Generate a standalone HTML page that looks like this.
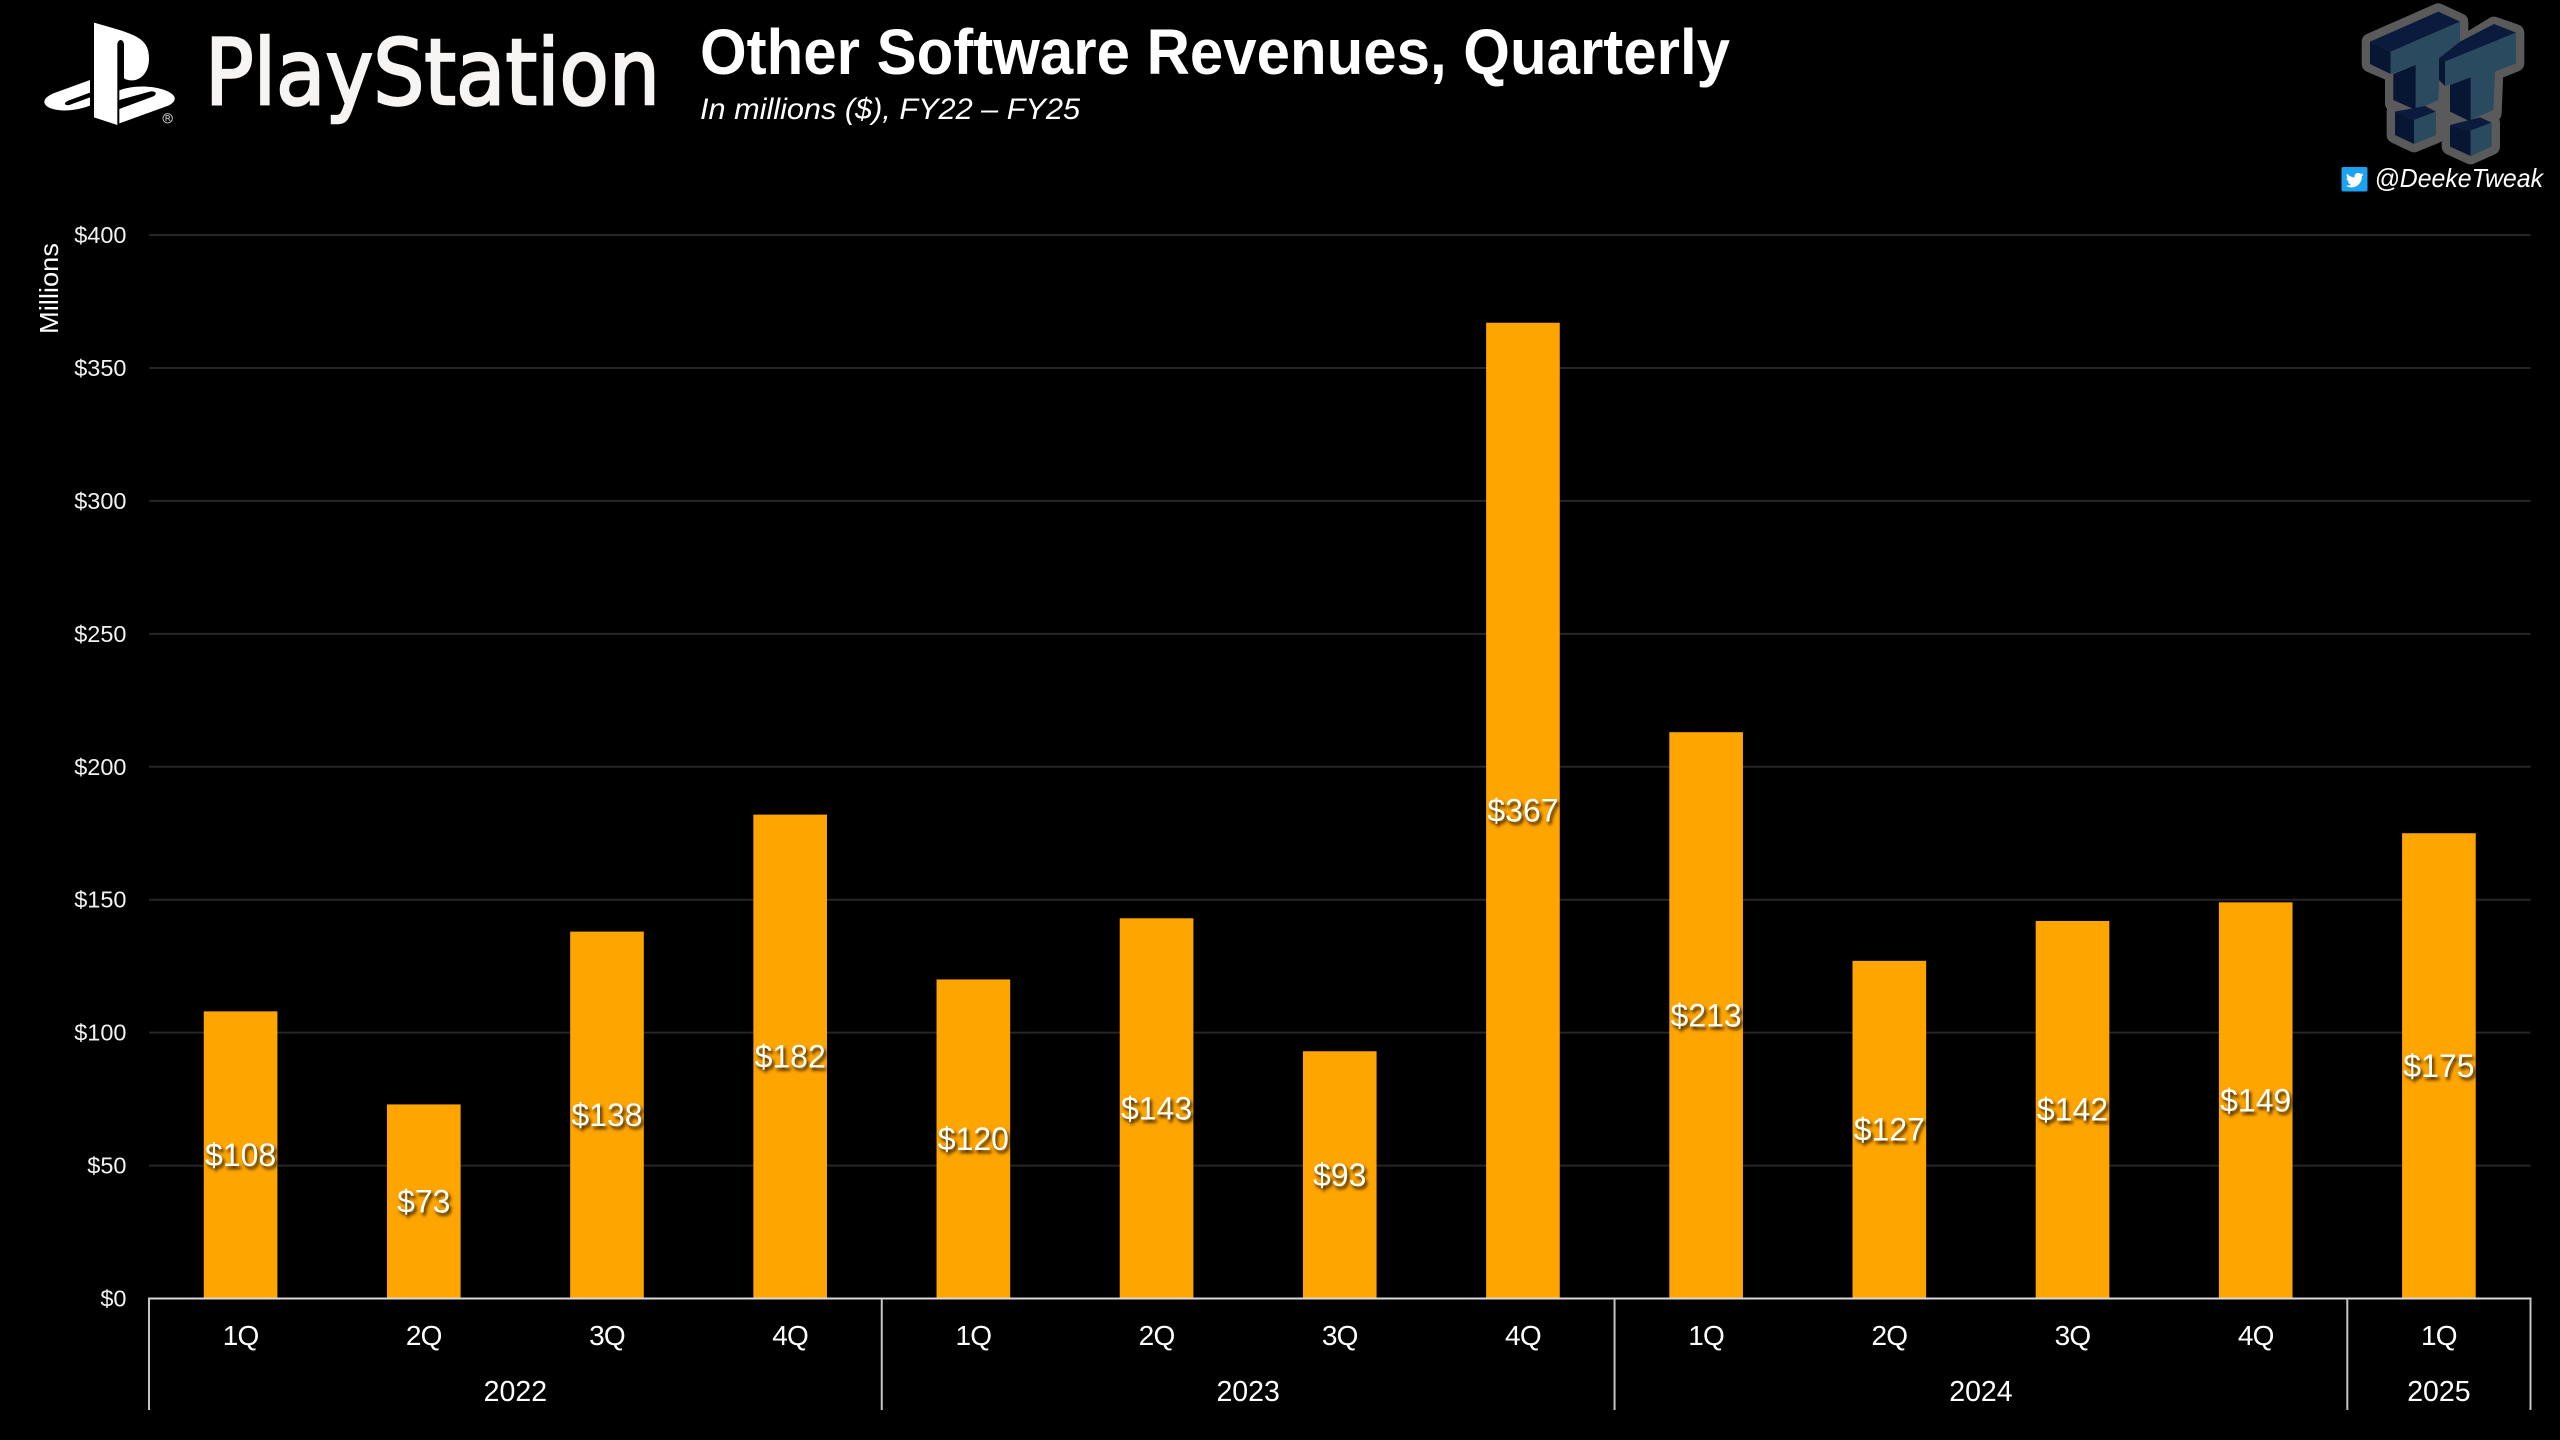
<!DOCTYPE html>
<html lang="en">
<head>
<meta charset="utf-8">
<title>Other Software Revenues, Quarterly</title>
<style>
  html, body { margin: 0; padding: 0; background: #000; }
  body { width: 2560px; height: 1440px; overflow: hidden; }
  svg { display: block; }
  text { font-family: "Liberation Sans", sans-serif; }
  .value-label { filter: drop-shadow(2px 3px 1.5px rgba(0,0,0,.8)); }
</style>
</head>
<body>
<svg id="chart" xmlns="http://www.w3.org/2000/svg" width="2560" height="1440" viewBox="0 0 2560 1440">
  <rect x="0" y="0" width="2560" height="1440" fill="#000"/>

  <g>
    <g transform="translate(30,10) scale(0.33333)" fill="#fff">
      <path d="M192 38 L192 322 L262 345 L262 105 C262 85 282 85 282 105 L282 205 C310 222 357 205 357 145 C357 80 310 72 192 38 Z"/>
      <path d="M180 210 L70 250 C35 265 35 285 65 296 C100 307 145 300 180 287 L180 262 L118 285 C102 288 100 278 115 272 L180 248 Z"/>
      <path d="M268 340 L415 287 C445 272 440 252 400 239 C360 226 310 226 268 241 L268 270 L362 244 C382 243 382 255 365 261 L268 297 Z"/>
      <circle cx="413" cy="325" r="14" fill="none" stroke="#bbb" stroke-width="3"/>
      <path d="M408 333 V317 H416 Q421 321 416 325 H408 M415 325 L420 333" fill="none" stroke="#bbb" stroke-width="3"/>
    </g>
    <text x="205" y="104" font-size="91" fill="#f6f5f3" stroke="#f6f5f3" stroke-width="2.500" style='font-family:"DejaVu Sans",sans-serif' textLength="455" lengthAdjust="spacingAndGlyphs">PlayStation</text>
  </g>

  <text x="700" y="74" font-size="64" font-weight="700" fill="#fff" textLength="1030" lengthAdjust="spacingAndGlyphs">Other Software Revenues, Quarterly</text>
  <text x="700" y="119" font-size="30" font-style="italic" fill="#fff" textLength="380" lengthAdjust="spacingAndGlyphs">In millions ($), FY22 – FY25</text>

  <g transform="translate(2260,0) scale(0.33333)">
    <g fill="#5a5a5a" stroke="#5a5a5a" stroke-width="50" stroke-linejoin="round">
      <polygon points="330,125 535,35 600,65 600,160 540,185 535,320 400,310 400,222 330,192"/>
      <polygon points="405,335 495,318 528,335 528,405 462,432 405,405"/>
      <polygon points="537,175 702,75 768,98 768,190 705,215 700,340 570,340 570,255 537,240"/>
      <polygon points="570,375 660,352 695,368 695,440 632,468 570,440"/>
    </g>
    <polygon fill="#0b1b3e" points="330,125 535,35 600,65 392,155"/>
    <polygon fill="#061633" points="330,125 392,155 392,222 330,192"/>
    <polygon fill="#2a4a60" points="392,155 600,65 600,160 540,185 535,300 467,330 467,195 392,222"/>
    <polygon fill="#061633" points="400,222 467,195 467,330 400,300"/>
    <polygon fill="#0b1b3e" points="405,335 495,318 528,335 462,360"/>
    <polygon fill="#061633" points="405,335 462,360 462,432 405,405"/>
    <polygon fill="#2a4a60" points="462,360 528,335 528,405 462,432"/>
    <polygon fill="#0b1b3e" points="537,175 600,125 702,72 768,98 555,185"/>
    <polygon fill="#061633" points="537,175 555,185 555,258 537,240"/>
    <polygon fill="#2a4a60" points="555,185 768,98 768,190 705,215 700,330 632,360 632,235 555,258"/>
    <polygon fill="#061633" points="570,255 632,232 632,365 570,335"/>
    <polygon fill="#0b1b3e" points="570,375 660,352 695,368 632,392"/>
    <polygon fill="#061633" points="570,375 632,392 632,468 570,440"/>
    <polygon fill="#2a4a60" points="632,392 695,368 695,440 632,468"/>
  </g>

  <g>
    <rect x="2341.500" y="167" width="26" height="24.500" rx="2" fill="#1da1f2"/>
    <path transform="translate(2344.500,169.500) scale(0.85)" fill="#fff" d="M22.46 6c-.77.35-1.6.58-2.46.69.88-.53 1.56-1.37 1.88-2.38-.83.5-1.75.85-2.72 1.05C18.37 4.5 17.26 4 16 4c-2.35 0-4.27 1.92-4.27 4.29 0 .34.04.67.11.98C8.28 9.09 5.11 7.38 3 4.79c-.37.63-.58 1.37-.58 2.15 0 1.49.75 2.81 1.91 3.56-.71 0-1.37-.2-1.95-.5v.03c0 2.08 1.48 3.82 3.44 4.21a4.22 4.22 0 0 1-1.93.07 4.28 4.28 0 0 0 4 2.98 8.521 8.521 0 0 1-5.33 1.84c-.34 0-.68-.02-1.02-.06C3.44 20.29 5.7 21 8.12 21 16 21 20.33 14.46 20.33 8.79c0-.19 0-.37-.01-.56.84-.6 1.56-1.36 2.14-2.23z"/>
    <text x="2374.500" y="187" font-size="26" font-style="italic" fill="#fff" textLength="168.500" lengthAdjust="spacingAndGlyphs">@DeekeTweak</text>
  </g>

  <text x="0" y="0" font-size="26" fill="#fff" textLength="91" lengthAdjust="spacingAndGlyphs" transform="translate(58,334) rotate(-90)">Millions</text>

  <g id="grid"></g>
  <g id="yticks"></g>
  <g id="bars"></g>
  <g id="xaxis"></g>
  <g id="labels"></g>
</svg>

<script>
const quarters = ["1Q","2Q","3Q","4Q","1Q","2Q","3Q","4Q","1Q","2Q","3Q","4Q","1Q"];
const revenues = [108,73,138,182,120,143,93,367,213,127,142,149,175];
const yTicks = [0,50,100,150,200,250,300,350,400];
const years = ["2022","2023","2024","2025"];
const yearSpans = [4,4,4,1];

const NS = "http://www.w3.org/2000/svg";
const plotLeft = 149, plotRight = 2530.5, plotTop = 235, plotBottom = 1298.5;
const yMax = yTicks[yTicks.length - 1];
const band = (plotRight - plotLeft) / quarters.length;
const barWidth = band * 0.402;

function yScale(v) { return plotBottom - (v / yMax) * (plotBottom - plotTop); }
function xEdge(i) { return plotLeft + i * band; }
function xCenter(i) { return plotLeft + (i + 0.5) * band; }

function make(tag, attrs, parent, content) {
  const el = document.createElementNS(NS, tag);
  for (const k in attrs) el.setAttribute(k, attrs[k]);
  if (content !== undefined) el.textContent = content;
  parent.appendChild(el);
  return el;
}

const gridG = document.getElementById("grid");
const tickG = document.getElementById("yticks");
const barG = document.getElementById("bars");
const axisG = document.getElementById("xaxis");
const labelG = document.getElementById("labels");

yTicks.forEach(function (t) {
  const y = yScale(t);
  if (t !== 0) {
    const line = make("line", {x1: plotLeft, x2: plotRight, y1: y, y2: y, stroke: "#262626", "stroke-width": 2}, gridG);
    
    
  }
  const lab = make("text", {x: 126.5, y: y + 8, "text-anchor": "end", "font-size": 23.5, fill: "#f2f2f2"}, tickG, "$" + t);
  
  
});

revenues.forEach(function (v, i) {
  const top = yScale(v);
  const bar = make("rect", {x: xCenter(i) - barWidth / 2, y: top, width: barWidth, height: plotBottom - top, fill: "#ffa500"}, barG);
  
  

  const lab = make("text", {x: xCenter(i), y: (top + plotBottom) / 2 + 11, "text-anchor": "middle", "font-size": 32, fill: "#fff", "class": "value-label"}, labelG, "$" + v);
  
  

  const q = make("text", {x: xCenter(i), y: 1345, "text-anchor": "middle", "font-size": 28, "letter-spacing": "-0.8", fill: "#fff"}, axisG, quarters[i]);
  
  
});

const axisLine = make("line", {x1: plotLeft - 1, x2: plotRight + 1, y1: plotBottom, y2: plotBottom, stroke: "#d9d9d9", "stroke-width": 2}, axisG);



let cursor = 0;
function separator(i) {
  const sep = make("line", {x1: xEdge(i), x2: xEdge(i), y1: plotBottom, y2: 1410, stroke: "#c4c4c4", "stroke-width": 2}, axisG);
  
  
}
separator(0);
years.forEach(function (yr, k) {
  const span = yearSpans[k];
  const cx = (xEdge(cursor) + xEdge(cursor + span)) / 2;
  const lab = make("text", {x: cx, y: 1401, "text-anchor": "middle", "font-size": 28.5, fill: "#fff"}, axisG, yr);
  
  
  cursor += span;
  separator(cursor);
});
</script>
</body>
</html>
